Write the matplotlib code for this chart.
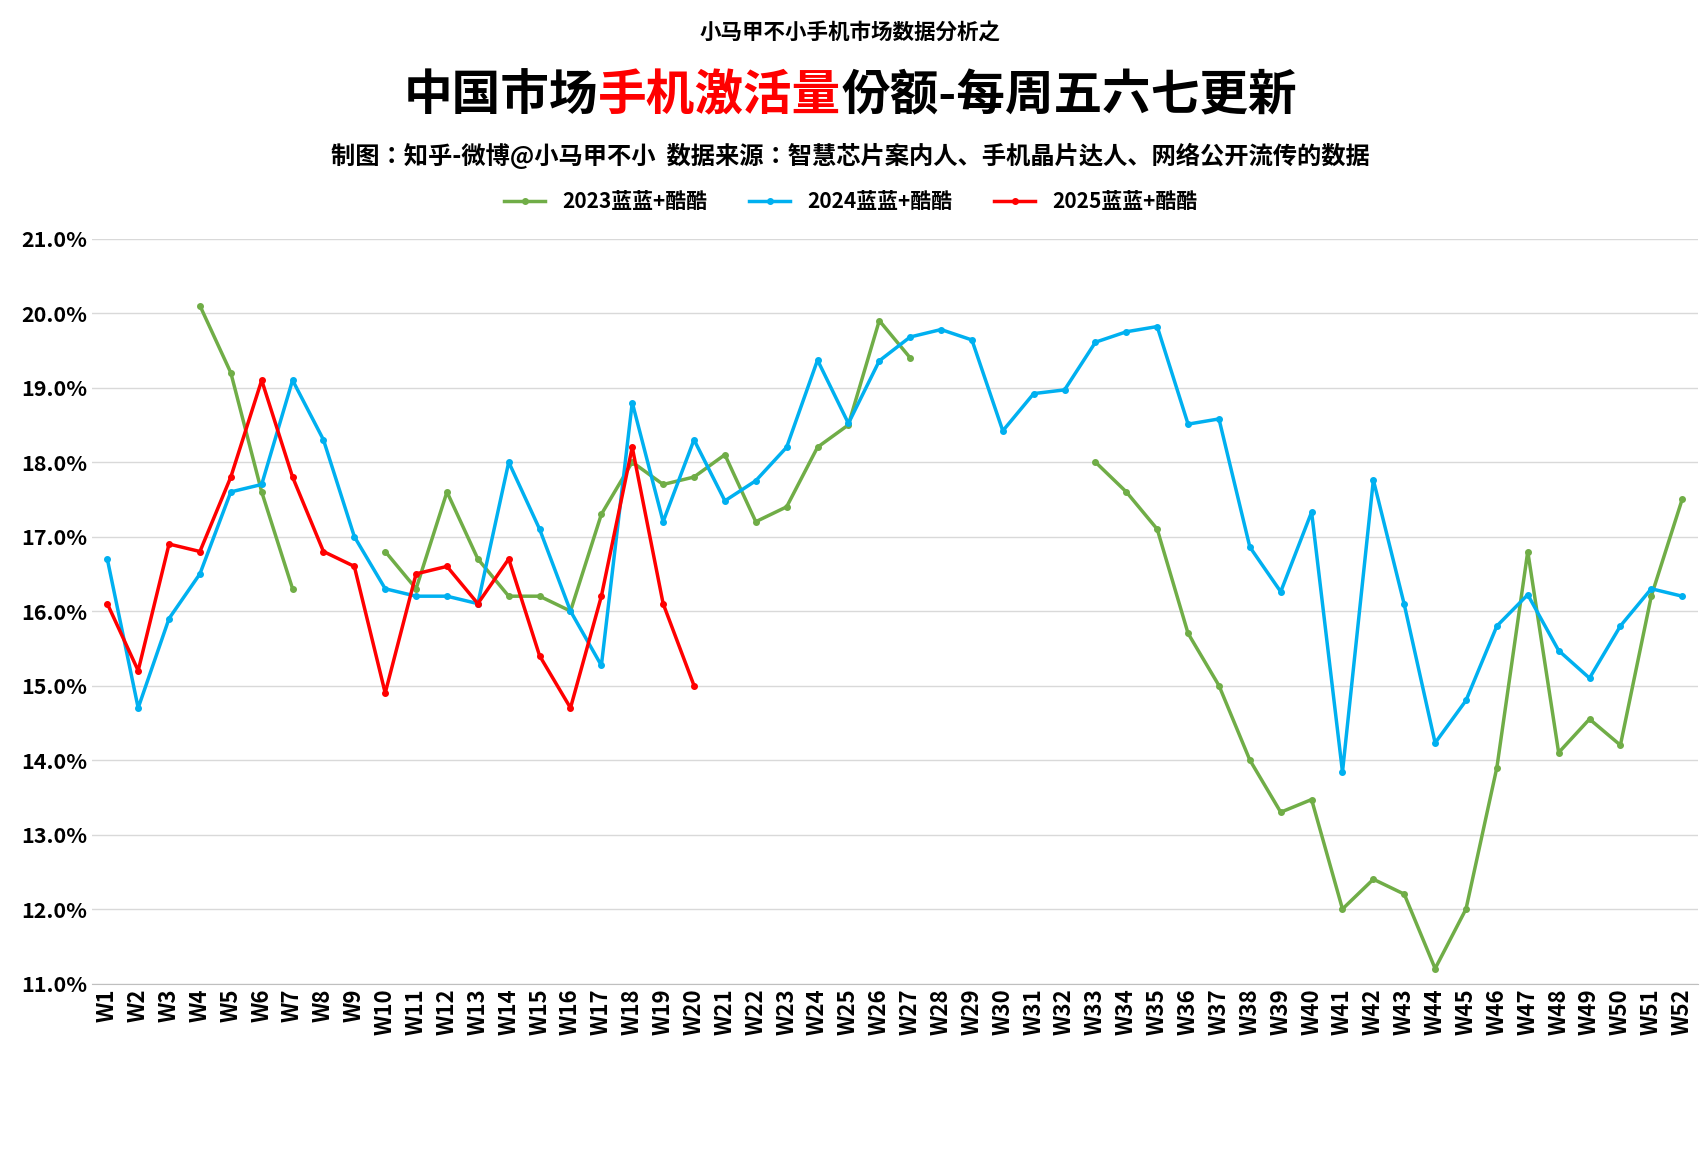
import matplotlib
matplotlib.use("Agg")
import matplotlib.pyplot as plt
from matplotlib import font_manager
import numpy as np

cjk = [f for f in font_manager.fontManager.ttflist if "CJK" in f.name]
names = sorted({f.name for f in cjk})
fam = "Noto Sans CJK SC" if "Noto Sans CJK SC" in names else (names[0] if names else "DejaVu Sans")
plt.rcParams["font.family"] = [fam, "DejaVu Sans"]
plt.rcParams["font.weight"] = "bold"

weeks = [f"W{i}" for i in range(1, 53)]
nan = np.nan

s2023 = [nan, nan, nan, 20.1, 19.2, 17.6, 16.3, nan, nan, 16.8,
         16.3, 17.6, 16.7, 16.2, 16.2, 16.0, 17.3, 18.0, 17.7, 17.8,
         18.1, 17.2, 17.4, 18.2, 18.5, 19.9, 19.4, nan, nan, nan,
         nan, nan, 18.0, 17.6, 17.1, 15.7, 15.0, 14.0, 13.3, 13.47,
         12.0, 12.4, 12.2, 11.2, 12.0, 13.9, 16.8, 14.1, 14.55, 14.2,
         16.2, 17.5]
s2024 = [16.7, 14.7, 15.9, 16.5, 17.6, 17.7, 19.1, 18.3, 17.0, 16.3,
         16.2, 16.2, 16.1, 18.0, 17.1, 16.0, 15.27, 18.8, 17.2, 18.3,
         17.48, 17.75, 18.2, 19.37, 18.52, 19.36, 19.68, 19.78, 19.64, 18.42,
         18.92, 18.97, 19.61, 19.75, 19.82, 18.51, 18.58, 16.86, 16.26, 17.33,
         13.84, 17.76, 16.09, 14.23, 14.8, 15.8, 16.22, 15.47, 15.1, 15.8,
         16.3, 16.2]
s2025 = [16.1, 15.2, 16.9, 16.8, 17.8, 19.1, 17.8, 16.8, 16.6, 14.9,
         16.5, 16.6, 16.1, 16.7, 15.4, 14.7, 16.2, 18.2, 16.1, 15.0]

fig = plt.figure(figsize=(17.01, 11.53), dpi=100)
ax = fig.add_axes([0.054, 0.147, 0.944, 0.646])
x = np.arange(len(weeks))
ax.plot(x, s2023, "o-", color="#70ad47", lw=2.5, ms=4, label="2023蓝蓝+酷酷")
ax.plot(x, s2024, "o-", color="#00b0f0", lw=2.5, ms=4, label="2024蓝蓝+酷酷")
ax.plot(np.arange(len(s2025)), s2025, "o-", color="#ff0000", lw=2.5, ms=4, label="2025蓝蓝+酷酷")

yt = np.arange(11, 21.5, 1)
ax.set_ylim(11, 21)
ax.set_yticks(yt)
ax.set_yticklabels([f"{v:.1f}%" for v in yt], fontsize=15.5, fontweight="bold")
ax.set_xlim(-0.5, 51.5)
ax.set_xticks(x)
ax.set_xticklabels(weeks, rotation=90, fontsize=16, fontweight="bold")
ax.grid(axis="y", color="#d9d9d9", lw=1)
ax.tick_params(length=0)
for sp in ["top", "right", "left"]:
    ax.spines[sp].set_visible(False)
ax.spines["bottom"].set_color("#bfbfbf")

fig.text(0.5, 0.972, "小马甲不小手机市场数据分析之", ha="center", va="center", fontsize=15.5, fontweight="bold")

# main title with red middle part
parts = [("中国市场", "black"), ("手机激活量", "#ff0000"), ("份额-每周五六七更新", "black")]
fig.canvas.draw()
r = fig.canvas.get_renderer()
texts = []
xpos = 0.0
for s, c in parts:
    t = fig.text(xpos, 0.917, s, ha="left", va="center", fontsize=35, fontweight="bold", color=c)
    xpos = t.get_window_extent(r).x1 / fig.bbox.width
    texts.append(t)
shift = 0.5 - xpos / 2
for t in texts:
    px, py = t.get_position()
    t.set_position((px + shift, py))

fig.text(0.5, 0.865, "制图：知乎-微博@小马甲不小  数据来源：智慧芯片案内人、手机晶片达人、网络公开流传的数据",
         ha="center", va="center", fontsize=17.5, fontweight="bold")
fig.legend(loc="center", bbox_to_anchor=(0.5, 0.825), ncol=3, frameon=False,
           prop={"size": 15, "weight": "bold"}, handlelength=2, columnspacing=2)

fig.savefig("out.png", dpi=100)
